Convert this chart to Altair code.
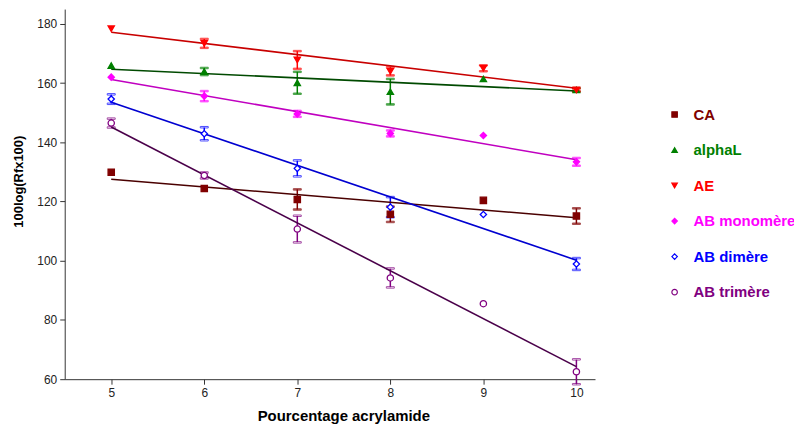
import altair as alt
import pandas as pd

series = ["CA", "alphaL", "AE", "AB monomère", "AB dimère", "AB trimère"]
acrylamide = [5, 6, 7, 8, 9, 10]

ca = [129.9, 124.4, 120.7, 115.7, 120.4, 115.1]
ca_err = [0, 0, 3.4, 2.6, 0, 2.6]
alphal = [165.9, 163.9, 160.1, 157.1, 161.4, 157.7]
alphal_err = [0, 1.2, 3.7, 4.3, 0, 0.6]
ae = [178.4, 173.4, 167.8, 164.0, 165.0, 157.7]
ae_err = [0, 1.5, 3.0, 1.4, 1.0, 0.5]
mono = [162.0, 155.6, 149.6, 143.0, 142.3, 133.4]
mono_err = [0, 1.7, 1.0, 1.0, 0, 1.3]
dim = [154.6, 142.9, 131.2, 118.1, 115.6, 98.9]
dim_err = [1.6, 2.2, 2.7, 3.4, 0, 2.0]
tri = [146.5, 128.8, 110.7, 94.2, 85.5, 62.5]
tri_err = [1.5, 1.0, 4.5, 3.2, 0, 4.2]

y_ticks = [60, 80, 100, 120, 140, 160, 180]

colors = ["#800000", "#008000", "#ff0000", "#ff00ff", "#0000ff", "#800080"]
fills = ["#800000", "#008000", "#ff0000", "#ff00ff", "#ffffff", "#ffffff"]
line_colors = ["#4a0000", "#004a00", "#c80000", "#c000c0", "#0000d0", "#4a004a"]
shapes = ["square", "triangle-up", "triangle-down", "diamond", "diamond", "circle"]

rows = []
for s, vals, errs in zip(series, [ca, alphal, ae, mono, dim, tri],
                         [ca_err, alphal_err, ae_err, mono_err, dim_err, tri_err]):
    for x, v, e in zip(acrylamide, vals, errs):
        rows.append({"series": s, "x": x, "y": v, "lo": v - e, "hi": v + e, "err": e})
df = pd.DataFrame(rows)

FONT = "Liberation Sans"

x_enc = alt.X("x:Q", scale=alt.Scale(domain=[4.5, 10.2], nice=False, zero=False),
              axis=alt.Axis(values=acrylamide, title="Pourcentage acrylamide",
                            titleX=280, titleY=37, titleBaseline="middle",
                            titleFontSize=15, titleFontWeight="bold",
                            labelFontSize=12, labelPadding=3, tickSize=5))
y_scale = alt.Scale(domain=[60, 185], nice=False, zero=False)
y_enc = alt.Y("y:Q", scale=y_scale,
              axis=alt.Axis(values=y_ticks, title="100log(Rfx100)",
                            titleX=-46, titleY=173, titleAngle=-90, titleAlign="center",
                            titleBaseline="middle",
                            titleFontSize=13, titleFontWeight="bold",
                            labelFontSize=12, labelPadding=3, tickSize=5))

stroke_enc = alt.Stroke("series:N", scale=alt.Scale(domain=series, range=colors), legend=None)
fill_enc = alt.Fill("series:N", scale=alt.Scale(domain=series, range=fills), legend=None)
shape_enc = alt.Shape("series:N", scale=alt.Scale(domain=series, range=shapes), legend=None)

base = alt.Chart(df)

errs = base.transform_filter("datum.err > 0")
err_rule = errs.mark_rule(strokeWidth=1.5).encode(
    x=x_enc, y=alt.Y("lo:Q", scale=y_scale), y2="hi:Q", stroke=stroke_enc)
cap_lo = errs.mark_tick(orient="horizontal", size=8, thickness=1.5).encode(
    x=x_enc, y=alt.Y("lo:Q", scale=y_scale), stroke=stroke_enc, fill=fill_enc)
cap_hi = errs.mark_tick(orient="horizontal", size=8, thickness=1.5).encode(
    x=x_enc, y=alt.Y("hi:Q", scale=y_scale), stroke=stroke_enc, fill=fill_enc)

lines = base.transform_regression("x", "y", groupby=["series"]).mark_line(
    strokeWidth=1.6).encode(
    x=x_enc, y=y_enc,
    color=alt.Color("series:N", scale=alt.Scale(domain=series, range=line_colors), legend=None),
    detail="series:N")

points = base.mark_point(size=40, opacity=1, strokeWidth=1.3).encode(
    x=x_enc, y=y_enc, shape=shape_enc, stroke=stroke_enc, fill=fill_enc)

main = alt.layer(err_rule, cap_lo, cap_hi, lines, points)

leg_df = pd.DataFrame({"series": series, "row": list(range(len(series)))})
leg_y = alt.Y("row:Q", scale=alt.Scale(domain=[0, 5], range=[106, 284.5]), axis=None)
leg_sym = alt.Chart(leg_df).mark_point(size=30, opacity=1, strokeWidth=1.2).encode(
    x=alt.value(613), y=leg_y, shape=shape_enc, stroke=stroke_enc, fill=fill_enc)
leg_txt = alt.Chart(leg_df).mark_text(
    align="left", baseline="middle", font=FONT, fontSize=15, fontWeight="bold").encode(
    x=alt.value(632), y=leg_y, text="series:N",
    color=alt.Color("series:N", scale=alt.Scale(domain=series, range=colors), legend=None))
legend = alt.layer(leg_sym, leg_txt)

chart = alt.layer(main, legend).resolve_scale(y="independent", color="independent").properties(
    width=533, height=372, autosize="none",
    padding={"left": 57, "top": 0, "right": 200, "bottom": 50},
).configure_view(stroke=None).configure_axis(
    grid=False, domainColor="#333333", tickColor="#333333", labelColor="#222222",
    titleColor="#000000", labelFont=FONT, titleFont=FONT, domainWidth=1, tickWidth=1,
)

chart.save("out.html", embed_options={"renderer": "svg", "actions": False})
